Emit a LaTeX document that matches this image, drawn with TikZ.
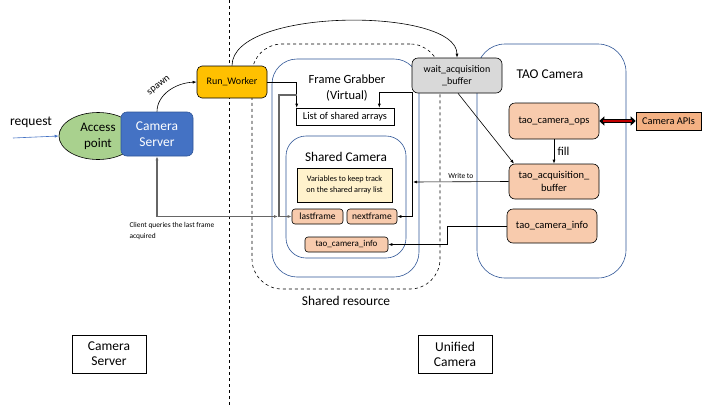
\documentclass[tikz,border=0pt]{standalone}
\usepackage{fontspec}
\setmainfont{Carlito}
\usetikzlibrary{arrows.meta,shapes.geometric}
\definecolor{cblue}{HTML}{4472C4}
\definecolor{cgreen}{HTML}{A9D18E}
\definecolor{cyel}{HTML}{FFC000}
\definecolor{cgray}{HTML}{D9D9D9}
\definecolor{csal}{HTML}{F8CBAD}
\definecolor{capi}{HTML}{F4B183}
\definecolor{cvar}{HTML}{FFF2CC}
\definecolor{cborder}{HTML}{2F5597}
\definecolor{cdark}{HTML}{C00000}
\newcommand\fz[1]{\fontsize{#1}{#1}\selectfont}
\tikzset{
  tip/.style={-{Latex[length=4pt,width=3pt]}},
  cont/.style={draw=cborder, line width=0.6pt, rounded corners=#1, fill=white},
  rbox/.style={draw=black, line width=0.6pt, rounded corners=3pt, align=center, inner sep=1pt},
  sal/.style={rbox, fill=csal},
  plain/.style={draw=black, line width=0.6pt, align=center, inner sep=1pt, fill=white},
  gl/.style={draw=gray!80!black, line width=1.4pt},
}
\begin{document}
\begin{tikzpicture}[x=1pt,y=-1pt]
\useasboundingbox (0,0) rectangle (720,405);
\fill[white] (0,0) rectangle (720,405);
% vertical dashed separator
\coordinate (vtop) at (229,0);
\coordinate (vbot) at (229,405);
\draw[dashed, line width=0.6pt] (vtop) -- (vbot);
% shared resource
\node[draw=black, dashed, line width=0.6pt, rounded corners=30pt, minimum width=188pt, minimum height=245pt] (sr) at (346,166.5) {};
\node[font=\fz{13.4}] (srl) at (346,301) {Shared resource};
% Frame grabber container
\node[cont=25pt, minimum width=147pt, minimum height=218pt] (fg) at (345.5,168) {};
\node[font=\fz{12.5}, align=center] (fgl) at (347,88) {Frame Grabber\\[4pt](Virtual)};
% shared camera container
\node[cont=20pt, minimum width=120pt, minimum height=122pt] (sc) at (346,197) {};
\node[font=\fz{13.3}] (scl) at (346,157) {Shared Camera};
% TAO camera container
\node[cont=28pt, minimum width=149pt, minimum height=234pt] (tao) at (551.5,161) {};
\node[font=\fz{13.4}] (taol) at (550,74) {TAO Camera};
% left side
\node[font=\fz{13.5}] (req) at (31,122) {request};
\coordinate (reqs) at (13,138);
\node[ellipse, draw=black, line width=0.6pt, fill=cgreen, minimum width=78pt, minimum height=47pt, inner sep=0pt, align=center, font=\fz{13}] (ap) at (98,136) {Access\\[3pt]point};
\draw[cblue, line width=0.6pt, -{Latex[length=4pt,width=3pt]}] (reqs) -- (ap.west);
\node[rbox, draw=cborder, fill=cblue, text=white, rounded corners=6pt, minimum width=72pt, minimum height=44pt, font=\fz{13.5}] (cs) at (157,134) {Camera\\[2.5pt]Server};
% run worker
\node[rbox, fill=cyel, rounded corners=5pt, minimum width=70pt, minimum height=32pt, font=\fz{10}] (rw) at (232,82) {Run\_Worker};
% wait acquisition buffer
\node[rbox, fill=cgray, rounded corners=6pt, minimum width=90pt, minimum height=35pt, font=\fz{10}] (wait) at (457,75.5) {wait\_acquisition\\[2pt]\_buffer};
% spawn
\draw[tip, line width=0.6pt] (cs.north) .. controls (157,95) and (175,83) .. (rw.west);
\node[font=\fz{10}, rotate=38] (spawn) at (159,86) {spawn};
% big arc
\draw[tip, line width=0.6pt] (rw.north) .. controls (232,7) and (457,7) .. (wait.north);
% frame grabber inner
\node[plain, minimum width=98pt, minimum height=17pt, font=\fz{10.4}] (list) at (345,116.5) {List of shared arrays};
\node[draw=black, line width=0.6pt, fill=cvar, minimum width=95pt, minimum height=34pt, align=center, font=\fz{8.2}, inner sep=1pt] (var) at (344.5,185) {Variables to keep track\\[2.5pt]on the shared array list};
\node[sal, minimum width=51pt, minimum height=15pt, font=\fz{9.5}] (last) at (317.5,216.5) {lastframe};
\node[sal, minimum width=50pt, minimum height=15pt, font=\fz{9.5}] (next) at (372,216.5) {nextframe};
\node[sal, minimum width=83pt, minimum height=15pt, font=\fz{9}] (infos) at (346.5,244.5) {tao\_camera\_info};
% TAO inner
\node[sal, rounded corners=6pt, minimum width=90pt, minimum height=36pt, font=\fz{10.5}] (ops) at (554,121) {tao\_camera\_ops};
\node[draw=black, line width=0.6pt, fill=capi, minimum width=65pt, minimum height=18pt, font=\fz{10.4}, inner sep=1pt] (api) at (668.5,121) {Camera APIs};
\node[sal, rounded corners=6pt, minimum width=90pt, minimum height=35pt, font=\fz{10.5}] (acq) at (554,181.5) {tao\_acquisition\_\\[2pt]buffer};
\node[sal, rounded corners=6pt, minimum width=90pt, minimum height=34pt, font=\fz{10.5}] (infot) at (552,226) {tao\_camera\_info};
% connectors
\draw[line width=3.6pt, black, {Triangle[length=5pt,width=9pt]}-{Triangle[length=5pt,width=9pt]}] (ops.east) -- (api.west);
\draw[line width=1.8pt, cdark, shorten <=4pt, shorten >=4pt] (ops.east) -- (api.west);
\draw[tip, line width=0.6pt] (ops.south) -- (acq.north) node[midway, right, font=\fz{12}] {fill};
\coordinate (wt) at (413,182);
\draw[tip, line width=0.6pt] (acq.west) -- (wt) node[pos=0.5, above, font=\fz{7.5}] {Write to};
\draw[tip, line width=0.6pt] (infot.west) -- ++(-59,0) |- (infos.east);
\draw[tip, line width=0.6pt] ([xshift=1pt]wait.south) -- ([xshift=-40pt]acq.north);
\coordinate (wbl) at (412,92);
\draw[tip, line width=0.6pt] (wbl) -| ([xshift=-15pt]list.north east);
\draw[tip, line width=0.6pt] (wbl) |- (next.east);
\draw[tip, line width=0.6pt] (rw.east) -| ([xshift=1pt]list.north west);
\coordinate (g1) at (297,95);
\draw[gl, -{Latex[length=4pt,width=3pt]}] (g1) -- (279,95) |- (last.west);
\coordinate (g2) at (278,216.5);
\draw[gl, {Latex[length=4pt,width=3pt]}-{Latex[length=4pt,width=3pt]}] (cs.south) |- (g2);
\node[font=\fz{7.4}, align=left, anchor=north west] (client) at (126,219) {Client queries the last frame\\[3pt]acquired};
% bottom legend
\node[plain, minimum width=74pt, minimum height=38pt, font=\fz{13.5}] (lcs) at (109,354) {Camera\\[1.5pt]Server};
\node[plain, minimum width=74pt, minimum height=38pt, font=\fz{13.5}] (luc) at (455,354) {Unified\\[1.5pt]Camera};
\end{tikzpicture}
\end{document}
